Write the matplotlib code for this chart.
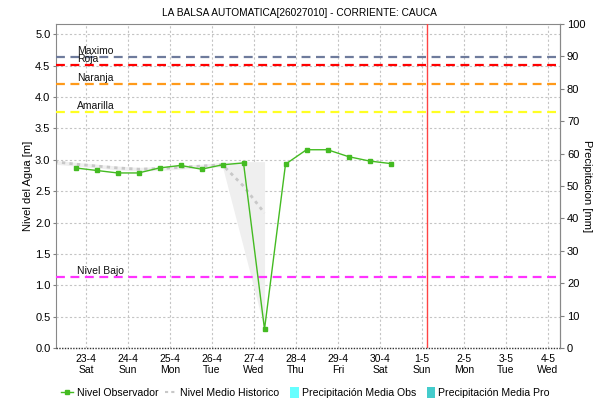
import matplotlib
matplotlib.use("Agg")
import matplotlib.pyplot as plt
import pandas as pd
from matplotlib.lines import Line2D
from matplotlib.patches import Patch, Rectangle
from matplotlib.legend_handler import HandlerPatch

# Observed water level (m), every 12 hours
obs_times = pd.date_range("2022-04-22 18:00", periods=16, freq="12h")
obs_level = [2.87, 2.83, 2.79, 2.79, 2.87, 2.91, 2.85, 2.92,
             2.95, 0.30, 2.93, 3.16, 3.16, 3.05, 2.98, 2.94]

# Historical mean level with min/max envelope
hist_times = pd.date_range("2022-04-22 06:00", periods=11, freq="12h")
hist_mean = [2.97, 2.93, 2.90, 2.87, 2.85, 2.86, 2.88, 2.90, 2.92, 2.58, 2.15]
hist_max = [2.99, 2.96, 2.93, 2.90, 2.88, 2.89, 2.91, 2.93, 2.96, 2.97, 2.97]
hist_min = [2.93, 2.90, 2.87, 2.84, 2.82, 2.83, 2.85, 2.87, 2.89, 1.60, 0.30]

# Alert thresholds (m)
thr_names = ["Maximo", "Roja", "Naranja", "Amarilla", "Nivel Bajo"]
thr_values = [4.64, 4.51, 4.20, 3.76, 1.13]
thr_colors = ["#6e7b9c", "#ff0000", "#ff9a1a", "#ffff22", "#ff33ff"]

tick_dates = pd.date_range("2022-04-23", "2022-05-04", freq="D")
tick_labels = [f"{d.day}-{d.month}\n{d.strftime('%a')}" for d in tick_dates]
now_marker = pd.Timestamp("2022-05-01 03:00")

plt.rcParams["font.family"] = ["Liberation Sans", "DejaVu Sans"]

fig = plt.figure(figsize=(5.95, 4.01), dpi=100)
ax = fig.add_axes([0.0941, 0.1322, 0.8471, 0.8079])

x_left = pd.Timestamp("2022-04-22 06:51")
x_right = pd.Timestamp("2022-05-04 06:51")
ax.set_xlim(x_left, x_right)
ax.set_ylim(0, 5.164)

ax.grid(True, color="#c4c4c4", linestyle=(0, (2, 2)), linewidth=0.8)
ax.set_axisbelow(True)

# Historical envelope and mean
ax.fill_between(hist_times, hist_min, hist_max, color="#efefef", linewidth=0, zorder=1)
ax.plot(hist_times, hist_mean, color="#c8c8c8", linestyle=(0, (1.2, 1.5)),
        linewidth=2.0, zorder=2)

# Thresholds
for name, val, col in zip(thr_names, thr_values, thr_colors):
    ax.axhline(val, color=col, linestyle=(0, (4, 2.5)), linewidth=1.6, zorder=3)
    ax.text(pd.Timestamp("2022-04-22 19:00"), val + 0.02, name, fontsize=7.5,
            color="#111111", va="bottom", ha="left", zorder=4)

# Observed level
ax.plot(obs_times, obs_level, color="#44bb22", linewidth=1.0, marker="s",
        markersize=3, markerfacecolor="#44bb22", markeredgecolor="#44bb22", zorder=5)

# Current time marker
ax.axvline(now_marker, color="#ff4444", linewidth=1.0, zorder=6)

ax.set_xticks(tick_dates)
ax.set_xticklabels(tick_labels, fontsize=7.5)
ax.set_yticks([i * 0.5 for i in range(11)])
ax.set_yticklabels([f"{i * 0.5:.1f}" for i in range(11)], fontsize=8)
ax.tick_params(axis="both", length=2, color="#808080", pad=2)
ax.tick_params(axis="x", length=0, pad=4)
ax.set_ylabel("Nivel del Agua [m]", fontsize=8)
ax.yaxis.set_label_coords(-0.046, 0.5)

for side in ["left", "top", "right"]:
    ax.spines[side].set_color("#888888")
ax.spines["bottom"].set_visible(False)
ax.axhline(0, color="#333333", linewidth=1.0, linestyle=(0, (1, 1)), clip_on=False, zorder=7)

ax2 = ax.twinx()
ax2.set_ylim(0, 100)
ax2.set_yticks(range(0, 101, 10))
ax2.set_yticklabels([str(v) for v in range(0, 101, 10)], fontsize=8)
ax2.tick_params(axis="y", length=3, color="#808080", pad=2)
ax2.set_ylabel("Precipitacion [mm]", fontsize=8, rotation=270, va="center")
ax2.yaxis.set_label_coords(1.054, 0.5)
for side in ["left", "top", "right", "bottom"]:
    ax2.spines[side].set_visible(False)
ax2.spines["right"].set_visible(True)
ax2.spines["right"].set_color("#888888")

fig.text(0.504, 0.968, "LA BALSA AUTOMATICA[26027010] - CORRIENTE: CAUCA",
         ha="center", va="center", fontsize=7.3)


def narrow_patch(legend, orig_handle, xdescent, ydescent, width, height, fontsize):
    return Rectangle((width - 6 - xdescent, -ydescent - 1), 6, height + 2)


handles = [
    Line2D([], [], color="#44bb22", marker="s", markersize=3, linewidth=1.0),
    Line2D([], [], color="#c8c8c8", linestyle=(0, (1.5, 1.5)), linewidth=1.5),
    Patch(facecolor="#66ffff", edgecolor="none"),
    Patch(facecolor="#44cccc", edgecolor="none"),
]
labels = ["Nivel Observador", "Nivel Medio Historico",
          "Precipitación Media Obs", "Precipitación Media Pro"]
fig.legend(handles, labels, loc="center", bbox_to_anchor=(0.513, 0.02), ncol=4,
           frameon=False, fontsize=7.6, handlelength=1.2, handletextpad=0.3,
           columnspacing=0.6, handleheight=0.9,
           handler_map={Patch: HandlerPatch(patch_func=narrow_patch)})

fig.savefig("out.png", dpi=100)
